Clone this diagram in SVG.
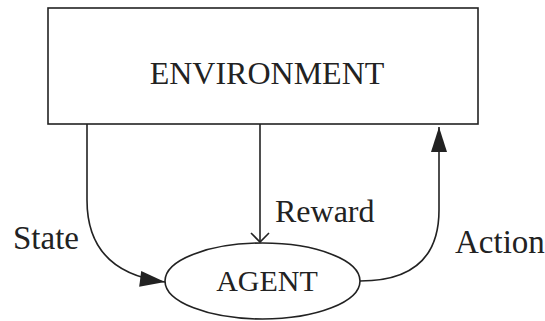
<svg xmlns="http://www.w3.org/2000/svg" width="545" height="321" viewBox="0 0 545 321">
  <style>
    .shape { fill: #ffffff; stroke: #222222; stroke-width: 1.6; }
    .edge { fill: none; stroke: #222222; stroke-width: 1.6; }
    .label { font-family: "Liberation Serif", "Times New Roman", serif; font-size: 32px; fill: #222222; }
  </style>
  <defs>
    <marker id="solid" markerUnits="userSpaceOnUse" markerWidth="26" markerHeight="18" refX="25" refY="8" orient="auto" overflow="visible">
      <path d="M0,0 L25,8 L0,16 z" fill="#222222"/>
    </marker>
    <marker id="open" markerUnits="userSpaceOnUse" markerWidth="12" markerHeight="20" refX="9" refY="9" orient="auto" overflow="visible">
      <path d="M0,0 L9,9 L0,18" fill="none" stroke="#222222" stroke-width="1.6"/>
    </marker>
  </defs>

  <rect width="545" height="321" fill="#ffffff"/>

  <g id="environment">
    <rect class="shape" x="48" y="8" width="430" height="116"/>
    <text class="label" x="267" y="84" text-anchor="middle">ENVIRONMENT</text>
  </g>

  <g id="agent">
    <ellipse class="shape" cx="262.5" cy="281" rx="97.5" ry="38"/>
    <text class="label" x="267" y="291" text-anchor="middle" style="font-size:30px">AGENT</text>
  </g>

  <g id="connectors">
    <path class="edge" d="M87,124 V200 C87,245 110,275 165,282" marker-end="url(#solid)"/>
    <path class="edge" d="M260,124 V242" marker-end="url(#open)"/>
    <path class="edge" d="M360,281 C410,281 439,260 439,210 V127" marker-end="url(#solid)"/>
    <text class="label" x="13" y="249" style="font-size:33px">State</text>
    <text class="label" x="275" y="222">Reward</text>
    <text class="label" x="455" y="253" style="font-size:33px">Action</text>
  </g>
</svg>
